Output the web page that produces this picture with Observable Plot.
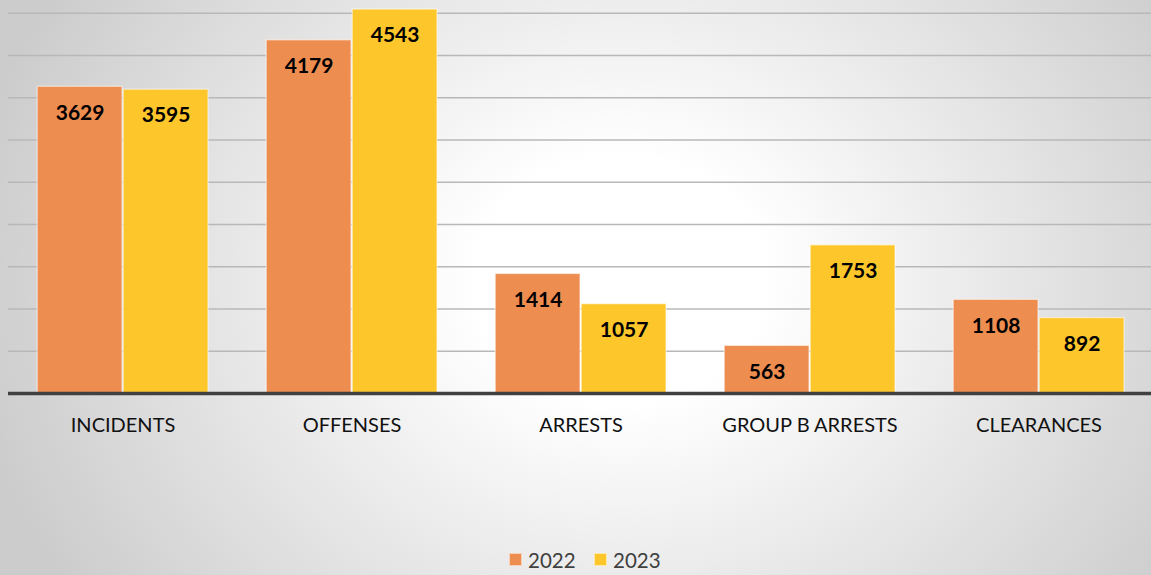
<!DOCTYPE html>
<html>
<head>
<meta charset="utf-8">
<script src="https://cdn.jsdelivr.net/npm/d3@7"></script>
<script src="https://cdn.jsdelivr.net/npm/@observablehq/plot@0.6"></script>
<style>
  html, body { margin: 0; padding: 0; }
  #wrap {
    position: relative; width: 1151px; height: 575px; overflow: hidden;
    background: radial-gradient(ellipse 660px 560px at 620px 280px, #ffffff 0%, #ffffff 22%, #cccccc 100%);
    font-family: Lato, "Open Sans", sans-serif;
  }
  #chart { position: absolute; left: 0; top: 0; }
  #legend {
    position: absolute; left: 0; top: 548px; width: 1151px; height: 24px;
  }
  .sw { position: absolute; width: 13px; height: 13px; top: 5px; box-sizing: border-box; border: 1px solid rgba(255,255,255,0.6); }
  .lt { position: absolute; top: 0; font-size: 20.5px; line-height: 24px; color: #404040; }
</style>
</head>
<body>
<div id="wrap">
  <div id="chart"></div>
  <div id="legend"></div>
</div>
<script>
const categories = ["INCIDENTS", "OFFENSES", "ARRESTS", "GROUP B ARRESTS", "CLEARANCES"];
const years = ["2022", "2023"];
const values2022 = [3629, 4179, 1414, 563, 1108];
const values2023 = [3595, 4543, 1057, 1753, 892];
const gridTicks = [500, 1000, 1500, 2000, 2500, 3000, 3500, 4000, 4500];
const colors = ["#EE8D50", "#FDC62B"];

const data = [];
categories.forEach((c, i) => {
  data.push({category: c, year: years[0], value: values2022[i]});
  data.push({category: c, year: years[1], value: values2023[i]});
});

const chart = Plot.plot({
  width: 1151,
  height: 530,
  marginTop: 12.7,
  marginBottom: 137,
  marginLeft: 7.4,
  marginRight: -2.6,
  style: {background: "transparent", fontFamily: "Lato, 'Open Sans', sans-serif", overflow: "visible"},
  fx: {domain: categories, label: null, padding: 0, tickSize: 0, tickPadding: 24},
  x: {domain: years, axis: null, paddingInner: 0, paddingOuter: 0.32},
  y: {domain: [0, 4500], axis: null},
  color: {domain: years, range: colors},
  facet: {data, x: "category"},
  marks: [
    Plot.ruleY(gridTicks, {stroke: "#b8b8b8", strokeWidth: 1.6, facet: false}),
    Plot.barY(data, {x: "year", y: "value", fill: "year", stroke: "rgba(255,255,255,0.55)", strokeWidth: 1.2, insetLeft: 0.6, insetRight: 0.6}),
    Plot.ruleY([0], {stroke: "#404040", strokeWidth: 3.5, facet: false}),
    Plot.text(data, {x: "year", y: "value", text: d => String(d.value), dy: 26, fill: "#000", fontSize: 21, fontWeight: "bold"})
  ]
});
chart.querySelectorAll("g[aria-label*='fx'] text").forEach(t => {
  t.style.fontSize = "20px";
  t.setAttribute("fill", "#111");
});
document.getElementById("chart").appendChild(chart);

const legend = document.getElementById("legend");
const legendX = [[509, 528], [594, 613]];
years.forEach((y, i) => {
  const sw = document.createElement("div");
  sw.className = "sw";
  sw.style.left = legendX[i][0] + "px";
  sw.style.background = colors[i];
  legend.appendChild(sw);
  const lt = document.createElement("div");
  lt.className = "lt";
  lt.style.left = legendX[i][1] + "px";
  lt.textContent = y;
  legend.appendChild(lt);
});
</script>
</body>
</html>
